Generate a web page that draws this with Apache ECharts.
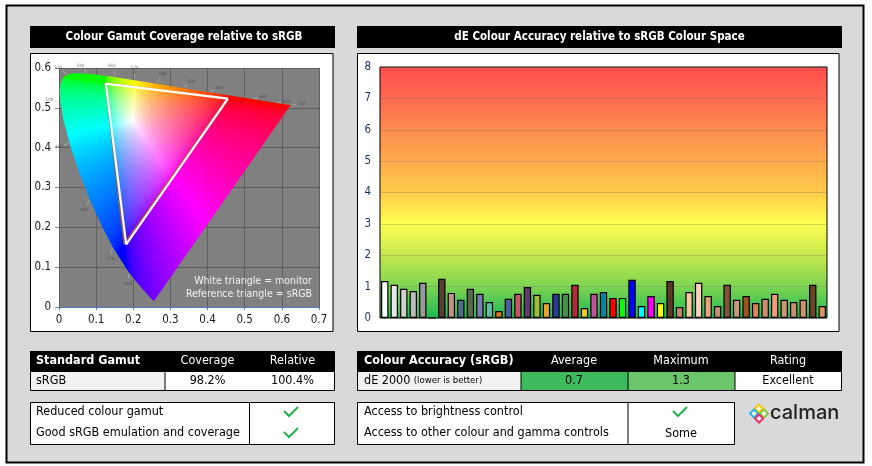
<!DOCTYPE html>
<html>
<head>
<meta charset="utf-8">
<script src="https://cdn.jsdelivr.net/npm/echarts@6/dist/echarts.min.js"></script>
<style>
    html, body { margin: 0; padding: 0; background: #fff; }
    #main { width: 872px; height: 466px; }
</style>
</head>
<body>
<div id="main"></div>
<script>
// CIE 1976 u'v' spectral locus (nm, u', v')
var locusNm = [380, 400, 420, 430, 440, 450, 460, 470, 475, 480, 485, 490, 495, 500, 505, 510, 515, 520, 525, 530, 540, 550, 560, 570, 580, 590, 600, 620, 640, 700];
var locusU = [0.2568, 0.2557, 0.2522, 0.2461, 0.2347, 0.2161, 0.1877, 0.1441, 0.1147, 0.0828, 0.0521, 0.0282, 0.0119, 0.0035, 0.0014, 0.0046, 0.0123, 0.0231, 0.0360, 0.0501, 0.0792, 0.1127, 0.1531, 0.2026, 0.2623, 0.3315, 0.4035, 0.5203, 0.5830, 0.6234];
var locusV = [0.0166, 0.0159, 0.0169, 0.0226, 0.0350, 0.0549, 0.0871, 0.1510, 0.2044, 0.2708, 0.3427, 0.4117, 0.4698, 0.5131, 0.5432, 0.5638, 0.5770, 0.5837, 0.5861, 0.5868, 0.5856, 0.5821, 0.5766, 0.5694, 0.5604, 0.5501, 0.5393, 0.5219, 0.5125, 0.5065];
var markNm = [460, 470, 480, 490, 500, 520, 540, 560, 570, 580, 590, 600, 620, 640, 700];
var whiteU = 0.1978, whiteV = 0.4683;

// triangles: red, green, blue corners
var srgbU = [0.4507, 0.1250, 0.1754];
var srgbV = [0.5229, 0.5625, 0.1579];
var monitorU = [0.455, 0.126, 0.181];
var monitorV = [0.523, 0.561, 0.157];

// dE 2000 per patch
var patchValues = [1.18, 1.06, 0.93, 0.86, 1.12, 0, 1.25, 0.80, 0.58, 0.93, 0.77, 0.51, 0.22, 0.61, 0.77, 0.99, 0.74, 0.48, 0.77, 0.77, 1.06, 0.32, 0.77, 0.83,
    0.64, 0.64, 1.22, 0.38, 0.70, 0.48, 1.18, 0.35, 0.83, 1.12, 0.70, 0.38, 1.06, 0.58, 0.70, 0.48, 0.61, 0.77, 0.58, 0.51, 0.58, 1.06, 0.38];
var patchColors = ['#ffffff', '#e6e6e6', '#d0d0d0', '#bcbcbc', '#999999', '#000000', '#5a3d33', '#c39483', '#516b8c', '#566b45', '#7d7bb0', '#62bfa9',
    '#e07825', '#4a5ea8', '#c85565', '#5e3a6e', '#a0ba3e', '#e8a52e', '#2e3a8f', '#44904a', '#b02a3a', '#f0c81e', '#bb5597', '#0083a3',
    '#ff0000', '#00ff00', '#0000ff', '#00ffff', '#ff00ff', '#ffff00', '#5c3a26', '#c48a68', '#fac8a0', '#fcd0bb', '#eaa47c', '#c89070',
    '#805434', '#c89878', '#9c5424', '#d8845e', '#d48c6c', '#f49a7c', '#cc9670', '#cc8e70', '#d0926a', '#6c4424', '#e0925e'];

// table texts
var gamutHeader = ['Standard Gamut', 'Coverage', 'Relative'];
var gamutRow = ['sRGB', '98.2%', '100.4%'];
var gamutChecks = ['Reduced colour gamut', 'Good sRGB emulation and coverage'];
var accuracyHeader = ['Colour Accuracy (sRGB)', 'Average', 'Maximum', 'Rating'];
var accuracyRow = ['dE 2000', '0.7', '1.3', 'Excellent'];
var controlChecks = ['Access to brightness control', 'Access to other colour and gamma controls'];
var controlResults = ['check', 'Some'];

var FONT = "'DejaVu Sans Condensed', 'DejaVu Sans', sans-serif";
var chart = echarts.init(document.getElementById('main'));
var gamutFill = '#ffffff';

/**
 * u'v' -> display colour (clipped, max normalised)
 */
function uvToRgb(u, v) {
    var d = 6 * u - 16 * v + 12;
    var x = 9 * u / d, y = 4 * v / d;
    var X = x / y, Z = (1 - x - y) / y;
    var r = 3.2406 * X - 1.5372 - 0.4986 * Z;
    var g = -0.9689 * X + 1.8758 + 0.0415 * Z;
    var b = 0.0557 * X - 0.2040 + 1.0570 * Z;
    r = Math.max(r, 0); g = Math.max(g, 0); b = Math.max(b, 0);
    var m = Math.max(r, g, b) || 1;
    return [r / m, g / m, b / m].map(function (c) {
        c = c <= 0.0031308 ? 12.92 * c : 1.055 * Math.pow(c, 1 / 2.4) - 0.055;
        return Math.round(Math.min(1, c) * 255);
    });
}

function buildGamutFill() {
    var p0 = chart.convertToPixel({gridIndex: 0}, [0, 0]);
    var p1 = chart.convertToPixel({gridIndex: 0}, [0.7, 0.6]);
    var cv = document.createElement('canvas');
    cv.width = chart.getWidth();
    cv.height = chart.getHeight();
    var ctx = cv.getContext('2d');
    var img = ctx.createImageData(cv.width, cv.height);
    for (var py = Math.floor(p1[1]); py <= Math.ceil(p0[1]); py++) {
        for (var px = Math.floor(p0[0]); px <= Math.ceil(p1[0]); px++) {
            var u = (px + 0.5 - p0[0]) / (p1[0] - p0[0]) * 0.7;
            var v = (p0[1] - py - 0.5) / (p0[1] - p1[1]) * 0.6;
            if (v < 0.002) v = 0.002;
            if (u < 0) u = 0;
            var c = uvToRgb(u, v);
            var k = (py * cv.width + px) * 4;
            img.data[k] = c[0]; img.data[k + 1] = c[1]; img.data[k + 2] = c[2]; img.data[k + 3] = 255;
        }
    }
    ctx.putImageData(img, 0, 0);
    return {image: cv, repeat: 'no-repeat'};
}

function txt(x, y, s, opt) {
    opt = opt || {};
    return {
        type: 'text', x: x, y: y, silent: true, z: 5,
        style: {
            text: s, fill: opt.color || '#000',
            font: (opt.weight || 'normal') + ' ' + (opt.size || 12) + 'px ' + FONT,
            textAlign: opt.align || 'left', align: opt.align || 'left',
            textVerticalAlign: 'middle', verticalAlign: 'middle'
        }
    };
}
function box(x, y, w, h, fill, stroke, z) {
    return {type: 'rect', silent: true, z: z === undefined ? -5 : z, shape: {x: x, y: y, width: w, height: h},
        style: {fill: fill, stroke: stroke || null, lineWidth: 1}};
}
function vline(x, y1, y2) {
    return {type: 'line', silent: true, z: -3, shape: {x1: x, y1: y1, x2: x, y2: y2}, style: {stroke: '#000', lineWidth: 1}};
}
function tick(cx, cy) {
    return {type: 'polyline', silent: true, z: 5, shape: {points: [[cx - 7, cy - 1], [cx - 2, cy + 4], [cx + 7, cy - 5]]},
        style: {stroke: '#22b14c', lineWidth: 2, fill: null}};
}
function diamond(cx, cy, r, color) {
    return {type: 'polygon', silent: true, z: 5, shape: {points: [[cx, cy - r], [cx + r, cy], [cx, cy + r], [cx - r, cy]]},
        style: {fill: '#fff', stroke: color, lineWidth: 2}};
}

var graphics = [
    // frame
    box(6.5, 5.5, 857, 457, '#d9d9d9', '#000', -10),
    {type: 'rect', silent: true, z: -9, shape: {x: 6.5, y: 5.5, width: 857, height: 457}, style: {fill: null, stroke: '#000', lineWidth: 2}},
    // titles
    box(30, 26, 305, 22, '#000'),
    txt(184, 37.5, 'Colour Gamut Coverage relative to sRGB', {color: '#fff', weight: 'bold', size: 11.5, align: 'center'}),
    box(357, 26, 485, 22, '#000'),
    txt(599.5, 37.5, 'dE Colour Accuracy relative to sRGB Colour Space', {color: '#fff', weight: 'bold', size: 11.5, align: 'center'}),
    // chart panels
    box(30.5, 53.5, 302.5, 278, '#fff', '#000'),
    box(357.5, 53.5, 481.5, 278, '#fff', '#000'),
    // gamut legend note
    txt(312, 281, 'White triangle = monitor', {color: '#f2f2f2', size: 10.5, align: 'right'}),
    txt(312, 294, 'Reference triangle = sRGB', {color: '#f2f2f2', size: 10.5, align: 'right'}),

    // gamut table
    box(30, 351, 305, 20, '#000'),
    txt(36, 361, gamutHeader[0], {color: '#fff', weight: 'bold', size: 12.5}),
    txt(207.5, 361, gamutHeader[1], {color: '#fff', size: 12.5, align: 'center'}),
    txt(292.5, 361, gamutHeader[2], {color: '#fff', size: 12.5, align: 'center'}),
    box(30.5, 371.5, 304, 19, '#fff'),
    box(30.5, 371.5, 134.5, 19, '#f2f2f2', null, -4),
    box(30.5, 371.5, 304, 19, null, '#000', -3),
    vline(165, 371, 391),
    txt(36, 381, gamutRow[0], {size: 12.5}),
    txt(207.5, 381, gamutRow[1], {size: 12.5, align: 'center'}),
    txt(292.5, 381, gamutRow[2], {size: 12.5, align: 'center'}),
    box(30.5, 402.5, 304, 42, '#fff', '#000'),
    vline(249.5, 402, 445),
    txt(36, 412, gamutChecks[0], {size: 12.5}),
    txt(36, 433, gamutChecks[1], {size: 12.5}),
    tick(291, 412), tick(291, 433),

    // accuracy table
    box(357, 351, 485, 20, '#000'),
    txt(364, 361, accuracyHeader[0], {color: '#fff', weight: 'bold', size: 12.5}),
    txt(574, 361, accuracyHeader[1], {color: '#fff', size: 12.5, align: 'center'}),
    txt(681, 361, accuracyHeader[2], {color: '#fff', size: 12.5, align: 'center'}),
    txt(788, 361, accuracyHeader[3], {color: '#fff', size: 12.5, align: 'center'}),
    box(357.5, 371.5, 484, 19, '#fff'),
    box(357.5, 371.5, 163.5, 19, '#f2f2f2', null, -4),
    box(521, 371.5, 107, 19, '#3dba5c', null, -4),
    box(628, 371.5, 107, 19, '#6bc56a', null, -4),
    box(357.5, 371.5, 484, 19, null, '#000', -3),
    vline(521, 371, 391), vline(628, 371, 391), vline(735, 371, 391),
    {
        type: 'text', x: 364, y: 381, silent: true, z: 5,
        style: {
            text: '{a|' + accuracyRow[0] + '} {b|(lower is better)}',
            textVerticalAlign: 'middle', verticalAlign: 'middle',
            rich: {a: {font: '12.5px ' + FONT, fill: '#000', color: '#000'}, b: {font: '9.5px ' + FONT, fill: '#000', color: '#000'}}
        }
    },
    txt(574, 381, accuracyRow[1], {size: 12.5, align: 'center'}),
    txt(681, 381, accuracyRow[2], {size: 12.5, align: 'center'}),
    txt(788, 381, accuracyRow[3], {size: 12.5, align: 'center'}),
    box(357.5, 402.5, 377, 42, '#fff', '#000'),
    vline(628, 402, 445),
    txt(364, 412, controlChecks[0], {size: 12.5}),
    txt(364, 433, controlChecks[1], {size: 12.5}),
    tick(680, 412),
    txt(681, 434, controlResults[1], {size: 12.5, align: 'center'}),

    // calman logo
    diamond(759, 408.5, 4, '#f7c600'),
    diamond(754, 413.5, 4, '#27b5e6'),
    diamond(764, 413.5, 4, '#8cc63f'),
    diamond(759, 418.5, 4, '#e5306b'),
    {type: 'text', x: 770, y: 413, silent: true, z: 5,
        style: {text: 'calman', fill: '#222', font: '500 20px Inter, Roboto, sans-serif', textVerticalAlign: 'middle', verticalAlign: 'middle'}}
];

var axisLabelStyle = {color: '#1a1a1a', fontSize: 11.5, fontFamily: FONT};

var option = {
    animation: false,
    backgroundColor: '#ffffff',
    graphic: graphics,
    grid: [
        {left: 59, top: 68, width: 260, height: 239, show: true, backgroundColor: '#808080', borderWidth: 0},
        {left: 380, top: 67, width: 447, height: 251, show: true, borderColor: '#000', borderWidth: 1,
            backgroundColor: {type: 'linear', x: 0, y: 0, x2: 0, y2: 1, colorStops: [
                {offset: 0, color: '#ff4d4d'}, {offset: 0.125, color: '#ff6a50'}, {offset: 0.25, color: '#ff8c50'},
                {offset: 0.375, color: '#ffab4c'}, {offset: 0.5, color: '#ffcc4a'}, {offset: 0.625, color: '#ffff50'},
                {offset: 0.75, color: '#c5e84e'}, {offset: 0.875, color: '#7dd452'}, {offset: 1, color: '#1db954'}]}}
    ],
    xAxis: [
        {type: 'value', gridIndex: 0, min: 0, max: 0.7, interval: 0.1,
            axisLine: {show: true, lineStyle: {color: '#4a7ebb'}},
            axisTick: {show: true, length: 3, lineStyle: {color: '#4a7ebb'}},
            axisLabel: Object.assign({margin: 7}, axisLabelStyle),
            splitLine: {show: true, lineStyle: {color: '#5f5f5f'}}},
        {type: 'category', gridIndex: 1, data: patchValues.map(function (v, i) { return 'P' + (i + 1); }),
            axisLine: {show: false}, axisTick: {show: false}, axisLabel: {show: false}}
    ],
    yAxis: [
        {type: 'value', gridIndex: 0, min: 0, max: 0.6, interval: 0.1,
            axisLine: {show: false},
            axisTick: {show: true, length: 4, lineStyle: {color: '#888'}},
            axisLabel: Object.assign({margin: 8}, axisLabelStyle),
            splitLine: {show: true, lineStyle: {color: '#5f5f5f'}}},
        {type: 'value', gridIndex: 1, min: 0, max: 8, interval: 1,
            axisLine: {show: false}, axisTick: {show: false},
            axisLabel: Object.assign({margin: 9}, axisLabelStyle, {color: '#1f3358'}),
            splitLine: {show: true, lineStyle: {color: 'rgba(110,110,110,0.3)'}}}
    ],
    series: [
        {
            id: 'locus', type: 'custom', xAxisIndex: 0, yAxisIndex: 0, data: [0], silent: true, z: 2,
            renderItem: function (params, api) {
                var pts = locusU.map(function (u, i) { return api.coord([u, locusV[i]]); });
                return {type: 'polygon', shape: {points: pts}, style: {fill: gamutFill, stroke: null}};
            }
        },
        {
            id: 'marks', type: 'custom', xAxisIndex: 0, yAxisIndex: 0, data: markNm, silent: true, z: 2,
            renderItem: function (params, api) {
                var i = locusNm.indexOf(markNm[params.dataIndex]);
                var du = locusU[i] - whiteU, dv = locusV[i] - whiteV;
                var len = Math.sqrt(du * du + dv * dv);
                var a = api.coord([locusU[i] + du / len * 0.004, locusV[i] + dv / len * 0.004]);
                var b = api.coord([locusU[i] + du / len * 0.016, locusV[i] + dv / len * 0.016]);
                var t = api.coord([locusU[i] + du / len * 0.03, locusV[i] + dv / len * 0.03]);
                return {type: 'group', children: [
                    {type: 'line', shape: {x1: a[0], y1: a[1], x2: b[0], y2: b[1]}, style: {stroke: 'rgba(200,200,200,0.55)', lineWidth: 1}},
                    {type: 'text', x: t[0], y: t[1], style: {text: String(markNm[params.dataIndex]), fill: 'rgba(60,60,60,0.7)',
                        font: '4.5px ' + FONT, align: 'center', verticalAlign: 'middle'}}
                ]};
            }
        },
        {
            name: 'sRGB', type: 'line', xAxisIndex: 0, yAxisIndex: 0, symbol: 'none', z: 3, silent: true,
            data: srgbU.concat(srgbU[0]).map(function (u, i) { return [u, srgbV.concat(srgbV[0])[i]]; }),
            lineStyle: {color: '#b5533c', width: 1.5}
        },
        {
            name: 'Monitor', type: 'line', xAxisIndex: 0, yAxisIndex: 0, symbol: 'none', z: 4, silent: true,
            data: monitorU.concat(monitorU[0]).map(function (u, i) { return [u, monitorV.concat(monitorV[0])[i]]; }),
            lineStyle: {color: '#ffffff', width: 2.2}
        },
        {
            name: 'dE 2000', type: 'bar', xAxisIndex: 1, yAxisIndex: 1, barCategoryGap: '22%', silent: true,
            data: patchValues.map(function (v, i) { return {value: v, itemStyle: {color: patchColors[i]}}; }),
            itemStyle: {borderColor: '#000', borderWidth: 1.2}
        }
    ]
};

chart.setOption(option);
gamutFill = buildGamutFill();
chart.setOption(option, true);
</script>
</body>
</html>
